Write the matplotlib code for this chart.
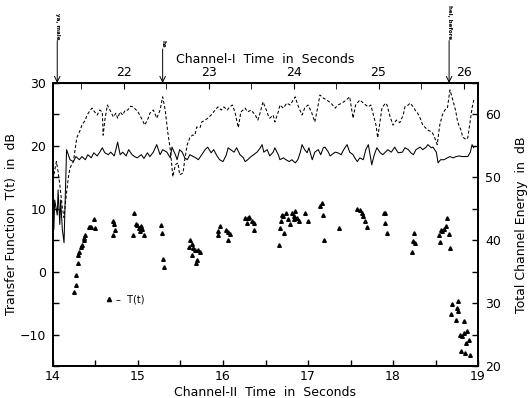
import matplotlib
matplotlib.use("Agg")
import matplotlib.pyplot as plt
from matplotlib.lines import Line2D
from matplotlib.ticker import MultipleLocator, FixedLocator

plt.rcParams['font.family'] = ['DejaVu Sans']

# ---- data: Transfer function T(t) (left axis, dB) ----
tri_t = [14.25, 14.27, 14.27, 14.29, 14.30, 14.31, 14.33, 14.34, 14.36, 14.37, 14.38, 14.42, 14.44, 14.45,
         14.48, 14.50, 14.71, 14.72, 14.73, 14.71, 14.95, 14.94, 14.98, 14.99, 15.01, 15.02, 15.04, 15.05,
         15.07, 15.27, 15.28, 15.30, 15.31, 15.61, 15.63, 15.60, 15.65, 15.67, 15.64, 15.71, 15.73, 15.69,
         15.68, 15.94, 15.96, 15.94, 16.04, 16.06, 16.08, 16.06, 16.26, 16.29, 16.31, 16.28, 16.34, 16.36,
         16.37, 16.66, 16.67, 16.68, 16.69, 16.71, 16.72, 16.74, 16.76, 16.79, 16.81, 16.83, 16.84, 16.85,
         16.87, 16.89, 16.97, 17.00, 17.14, 17.16, 17.18, 17.19, 17.36, 17.58, 17.61, 17.64, 17.65, 17.67,
         17.69, 17.89, 17.90, 17.91, 17.93, 18.22, 18.23, 18.25, 18.26, 18.54, 18.55, 18.56, 18.58, 18.60,
         18.62, 18.64, 18.66, 18.67, 18.69, 18.68, 18.76, 18.75, 18.77, 18.74, 18.84, 18.79, 18.81, 18.83,
         18.87, 18.86, 18.89, 18.80, 18.85, 18.90]
tri_v = [-3.3, -2.1, -0.6, 1.4, 2.7, 3.2, 4.0, 4.3, 5.1, 5.4, 5.9, 7.1, 7.1, 7.1,
         8.4, 7.0, 8.1, 7.5, 6.7, 5.8, 9.3, 5.9, 7.6, 7.4, 6.9, 6.4, 7.2, 6.8,
         5.8, 7.4, 6.1, 2.0, 0.8, 5.1, 4.4, 4.0, 3.8, 3.4, 2.7, 3.5, 3.2, 1.9,
         1.4, 6.4, 7.2, 5.8, 6.7, 6.3, 6.0, 5.0, 8.5, 8.5, 8.7, 7.7, 8.1, 7.7,
         6.6, 4.3, 7.0, 8.1, 9.0, 8.8, 6.1, 9.4, 8.4, 7.5, 9.3, 8.8, 8.4, 9.7,
         8.5, 8.1, 9.4, 8.0, 10.5, 10.9, 9.0, 5.1, 7.0, 10.0, 9.8, 9.3, 8.8, 8.1,
         7.1, 9.3, 9.4, 7.8, 6.1, 3.1, 4.8, 6.1, 4.6, 5.9, 4.7, 6.7, 6.4, 6.8,
         7.3, 8.6, 6.0, 3.8, -5.2, -6.7, -4.7, -5.8, -6.3, -7.7, -7.9, -10.0, -10.3, -9.7,
         -9.5, -11.3, -10.9, -12.6, -13.0, -13.3]

# ---- data: channel energy, solid line (right axis, dB) ----
solid_t = [14.00, 14.01, 14.02, 14.05, 14.06, 14.08, 14.09, 14.11, 14.13, 14.14, 14.16, 14.20, 14.24, 14.27,
           14.31, 14.34, 14.38, 14.41, 14.45, 14.48, 14.52, 14.55, 14.58, 14.61, 14.65, 14.68, 14.72, 14.74,
           14.76, 14.79, 14.82, 14.86, 14.89, 14.93, 14.96, 14.99, 15.04, 15.07, 15.11, 15.14, 15.18, 15.22,
           15.26, 15.29, 15.34, 15.38, 15.40, 15.44, 15.46, 15.49, 15.52, 15.55, 15.58, 15.61, 15.65, 15.68,
           15.71, 15.75, 15.79, 15.82, 15.86, 15.89, 15.93, 15.96, 16.00, 16.04, 16.06, 16.09, 16.13, 16.16,
           16.20, 16.24, 16.26, 16.29, 16.33, 16.36, 16.40, 16.44, 16.46, 16.48, 16.52, 16.55, 16.59, 16.61,
           16.65, 16.67, 16.71, 16.74, 16.78, 16.81, 16.85, 16.88, 16.91, 16.93, 16.96, 16.99, 17.01, 17.05,
           17.08, 17.12, 17.15, 17.18, 17.20, 17.24, 17.26, 17.28, 17.32, 17.35, 17.39, 17.42, 17.46, 17.49,
           17.53, 17.55, 17.58, 17.61, 17.65, 17.68, 17.71, 17.73, 17.75, 17.78, 17.81, 17.85, 17.88, 17.91,
           17.94, 17.98, 18.02, 18.06, 18.11, 18.14, 18.18, 18.21, 18.24, 18.27, 18.32, 18.35, 18.39, 18.41,
           18.45, 18.47, 18.51, 18.53, 18.56, 18.60, 18.64, 18.67, 18.71, 18.74, 18.78, 18.81, 18.85, 18.88,
           18.91, 18.93, 18.95]
solid_v = [51.5, 41.7, 46.4, 44.0, 48.0, 42.5, 46.4, 41.7, 39.6, 44.8, 54.4, 52.8, 52.5, 53.3,
           52.8, 53.3, 52.8, 53.6, 53.1, 53.9, 53.4, 54.0, 54.7, 53.9, 53.6, 54.0, 53.4, 54.4,
           55.6, 53.6, 54.0, 53.4, 54.4, 53.6, 53.3, 53.1, 53.6, 53.0, 53.9, 53.3, 54.0, 55.2,
           53.6, 54.4, 54.0, 53.1, 54.8, 53.6, 52.8, 54.4, 54.0, 53.1, 52.8, 53.6, 53.3, 53.1,
           52.8, 53.6, 54.4, 54.8, 53.9, 54.4, 53.4, 52.8, 52.5, 53.6, 54.7, 54.4, 54.0, 54.7,
           53.6, 53.1, 52.5, 52.8, 53.3, 53.6, 54.0, 54.7, 55.2, 54.0, 54.4, 53.4, 54.0, 54.7,
           53.6, 52.8, 53.1, 52.8, 52.5, 52.8, 52.3, 52.8, 54.0, 55.2, 54.4, 53.9, 54.7, 52.8,
           54.0, 54.4, 53.6, 54.7, 54.8, 54.0, 53.4, 53.6, 54.0, 53.9, 53.6, 54.4, 55.2, 54.0,
           53.6, 53.1, 52.5, 53.1, 52.8, 54.4, 55.2, 53.6, 52.0, 53.6, 54.7, 53.9, 53.6, 54.0,
           54.4, 54.0, 54.8, 53.9, 54.0, 54.7, 54.4, 53.9, 53.6, 54.4, 54.8, 54.4, 54.8, 55.2,
           54.7, 54.8, 54.0, 52.3, 52.8, 52.8, 53.1, 53.3, 53.1, 53.3, 53.4, 53.3, 53.3, 53.3,
           54.0, 55.2, 54.7]

# ---- data: channel energy, dashed line (right axis, dB) ----
dash_t = [14.00, 14.01, 14.04, 14.06, 14.08, 14.11, 14.13, 14.15, 14.18, 14.20, 14.24, 14.26, 14.28, 14.32,
          14.34, 14.38, 14.40, 14.44, 14.46, 14.49, 14.52, 14.55, 14.58, 14.59, 14.61, 14.64, 14.67, 14.71,
          14.74, 14.76, 14.79, 14.82, 14.85, 14.88, 14.91, 14.94, 14.98, 15.00, 15.04, 15.08, 15.12, 15.14,
          15.18, 15.20, 15.22, 15.26, 15.29, 15.32, 15.35, 15.38, 15.41, 15.44, 15.47, 15.49, 15.53, 15.55,
          15.58, 15.61, 15.64, 15.67, 15.69, 15.73, 15.75, 15.79, 15.82, 15.86, 15.89, 15.94, 15.98, 16.01,
          16.05, 16.08, 16.11, 16.14, 16.18, 16.21, 16.26, 16.29, 16.33, 16.38, 16.41, 16.44, 16.47, 16.51,
          16.53, 16.55, 16.59, 16.61, 16.65, 16.67, 16.71, 16.75, 16.79, 16.85, 16.88, 16.93, 16.96, 17.00,
          17.04, 17.08, 17.12, 17.14, 17.18, 17.22, 17.27, 17.32, 17.35, 17.40, 17.45, 17.49, 17.53, 17.56,
          17.61, 17.66, 17.71, 17.74, 17.76, 17.80, 17.82, 17.85, 17.87, 17.91, 17.93, 17.96, 18.00, 18.04,
          18.08, 18.12, 18.14, 18.18, 18.20, 18.24, 18.26, 18.29, 18.32, 18.35, 18.38, 18.41, 18.46, 18.49,
          18.52, 18.55, 18.58, 18.61, 18.64, 18.67, 18.71, 18.74, 18.76, 18.80, 18.82, 18.86, 18.88, 18.91,
          18.93, 18.95]
dash_v = [52.0, 50.4, 52.5, 50.9, 48.8, 45.2, 43.6, 46.4, 49.9, 51.5, 52.5, 54.4, 56.3, 57.5,
          58.3, 59.1, 59.9, 60.7, 61.0, 60.4, 59.9, 60.7, 60.4, 56.7, 59.1, 61.5, 60.7, 59.6,
          60.2, 59.4, 60.4, 59.9, 60.7, 60.7, 61.3, 61.2, 60.7, 60.4, 59.4, 58.3, 59.4, 60.2,
          60.7, 60.1, 59.4, 60.7, 62.8, 60.7, 57.2, 54.4, 50.1, 52.0, 52.3, 50.4, 50.7, 52.8,
          55.2, 56.3, 56.7, 56.7, 58.0, 57.9, 58.8, 59.1, 59.4, 59.9, 60.4, 61.2, 60.7, 61.2,
          60.7, 61.2, 61.5, 60.4, 57.9, 60.4, 61.0, 60.4, 60.7, 59.9, 59.1, 60.4, 62.0, 60.7,
          59.9, 59.4, 59.9, 58.8, 60.4, 61.5, 61.0, 61.8, 61.5, 62.8, 61.5, 59.9, 61.0, 61.5,
          60.4, 58.8, 61.5, 63.1, 62.6, 62.3, 61.8, 61.0, 61.5, 61.8, 62.3, 62.8, 59.4, 61.5,
          62.3, 61.7, 61.2, 61.5, 60.4, 58.3, 56.3, 59.1, 61.0, 61.8, 61.5, 59.9, 58.3, 59.1,
          58.7, 59.9, 61.2, 61.5, 61.8, 61.2, 60.7, 60.2, 59.4, 58.3, 57.9, 57.5, 57.2, 56.3,
          55.2, 58.3, 59.9, 60.7, 61.0, 63.9, 62.0, 60.4, 58.8, 57.5, 56.4, 56.0, 56.3, 59.1,
          61.0, 62.3]

# ---- top axis (Channel-I time) ticks ----
top_major = [22, 23, 24, 25, 26]
top_minor = [21.5, 22.5, 23.5, 24.5, 25.5]

# ---- annotations (event markers on Channel-II time axis) ----
event_t = [14.05, 15.29, 18.66]
event_txt = ["ya, male", "he", "hel, before"]

top_offset = 7.17  # Channel-I time = Channel-II time + offset

fig = plt.figure(figsize=(5.31, 3.98), dpi=100)
ax = fig.add_axes([0.0998, 0.0804, 0.8004, 0.7111])
ax2 = ax.twinx()

ax.plot(tri_t, tri_v, linestyle='none', marker='^', markersize=2.6, color='black')
ax2.plot(solid_t, solid_v, color='black', linewidth=0.75)
ax2.plot(dash_t, dash_v, color='black', linewidth=0.75, linestyle=(0, (3, 2)))

ax.set_xlim(14, 19)
ax.set_ylim(-15, 30)
ax2.set_ylim(20, 65)

ax.xaxis.set_major_locator(MultipleLocator(1))
ax.xaxis.set_minor_locator(MultipleLocator(0.5))
ax.yaxis.set_major_locator(MultipleLocator(10))
ax.yaxis.set_minor_locator(MultipleLocator(5))
ax2.yaxis.set_major_locator(MultipleLocator(10))
ax2.yaxis.set_minor_locator(MultipleLocator(5))

for a in (ax, ax2):
    a.tick_params(which='both', direction='in', labelsize=9, width=1)
    a.tick_params(which='major', length=4)
    a.tick_params(which='minor', length=4)
    for s in a.spines.values():
        s.set_linewidth(1.3)

ax.tick_params(axis='x', pad=3)
ax.tick_params(axis='y', pad=5)
ax2.tick_params(axis='y', pad=5)

sec = ax.secondary_xaxis('top', functions=(lambda x: x + top_offset, lambda x: x - top_offset))
sec.xaxis.set_major_locator(FixedLocator(top_major))
sec.xaxis.set_minor_locator(FixedLocator(top_minor))
sec.tick_params(which='both', direction='in', length=4, labelsize=9, pad=3)
sec.set_xlabel("Channel-I  Time  in  Seconds", fontsize=9, labelpad=2)

ax.set_xlabel("Channel-II  Time  in  Seconds", fontsize=9)
ax.xaxis.set_label_coords(0.5, -0.072)
ax.set_ylabel("Transfer Function  T(t)  in  dB", fontsize=9)
ax.yaxis.set_label_coords(-0.082, 0.5)
ax2.set_ylabel("Total Channel Energy  in  dB", fontsize=9)
ax2.yaxis.set_label_coords(1.088, 0.5)

ax.legend(handles=[Line2D([], [], linestyle='none', marker='^', markersize=3, color='black')],
          labels=['–  T(t)'], frameon=False, fontsize=7,
          loc='upper left', bbox_to_anchor=(0.1, 0.285), handletextpad=0.2, handlelength=1)

starts = [0.15, 0.12, 0.15]
for t, txt, s in zip(event_t, event_txt, starts):
    ax.annotate("", xy=(t, 1.0), xycoords=('data', 'axes fraction'),
                xytext=(t, 1.0 + s), textcoords=('data', 'axes fraction'),
                arrowprops=dict(arrowstyle='->', color='black', lw=0.7, shrinkA=0, shrinkB=0))
    ax.text(t, 1.0 + s + 0.005, txt, transform=ax.get_xaxis_transform(), rotation=-90,
            ha='center', va='bottom', fontsize=4, fontweight='bold')

fig.savefig("out.png", dpi=100, facecolor='white')
